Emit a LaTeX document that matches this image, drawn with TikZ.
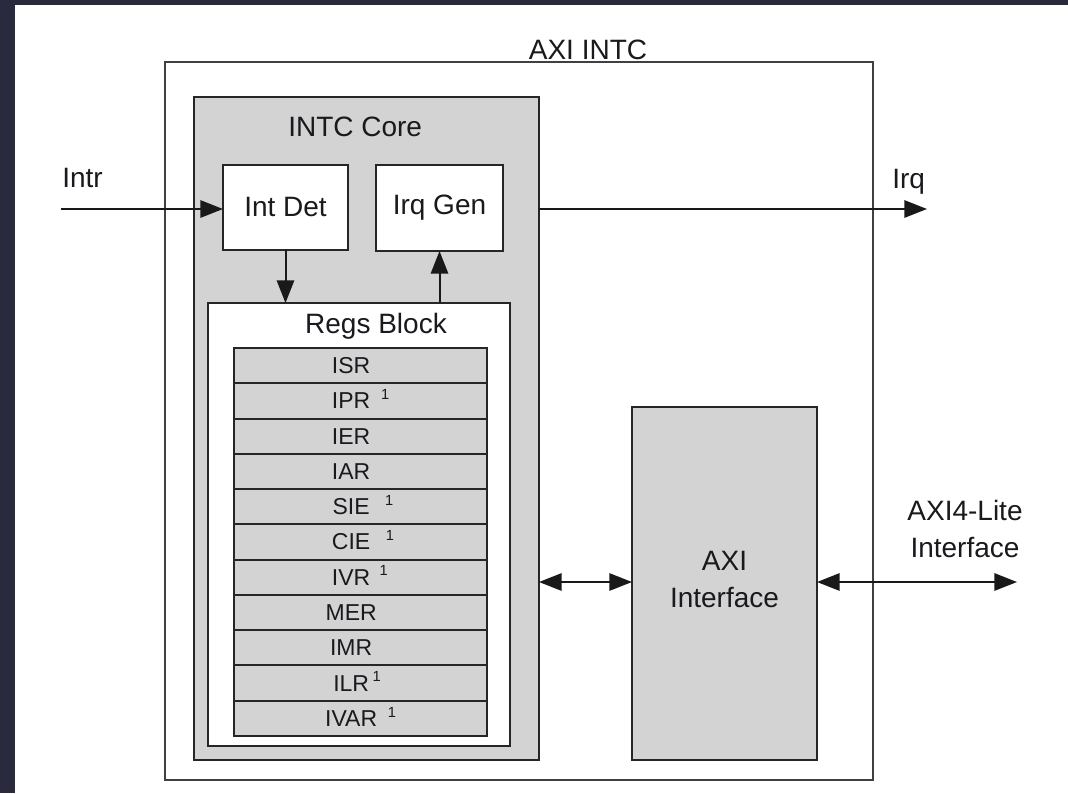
\documentclass[tikz,border=0pt]{standalone}
\usepackage{fontspec}
\setmainfont{Liberation Sans}
\usetikzlibrary{arrows.meta}
\definecolor{bgdark}{RGB}{41,42,62}
\definecolor{boxgray}{RGB}{211,211,211}
\definecolor{ink}{RGB}{25,25,30}
\newcommand\supone[1]{\rlap{\hspace{#1}\raisebox{7pt}{\fontsize{11}{12}\selectfont 1}}}
\begin{document}
\begin{tikzpicture}[x=0.75pt,y=-0.75pt,
  blk/.style={draw=black!85, line width=1.5pt, inner sep=0pt, outer sep=0pt},
  graybox/.style={blk, fill=boxgray},
  whitebox/.style={blk, fill=white},
  big/.style={font=\fontsize{21}{27.75}\selectfont, text=ink, inner sep=0pt},
  reg/.style={font=\fontsize{17.25}{20}\selectfont, text=ink, inner sep=0pt},
  tip/.tip={Triangle[length=17pt,width=13pt]},
  arr/.style={draw=black!90, line width=1.5pt, -tip},
  darr/.style={draw=black!90, line width=1.5pt, tip-tip},
]
% background
\useasboundingbox (0,0) rectangle (1068,793);
\fill[bgdark] (0,0) rectangle (1068,793);
\fill[white] (15,5) rectangle (1068,793);

% boxes
\node[whitebox, draw=black!75, minimum width=531pt, minimum height=538.5pt] (outer) at (519,421) {};
\node[graybox, minimum width=258.75pt, minimum height=497.25pt] (core) at (366.5,428.5) {};
\node[whitebox, minimum width=93.75pt, minimum height=63.75pt] (intdet) at (285.5,207.5) {};
\node[whitebox, minimum width=95.25pt, minimum height=64.5pt] (irqgen) at (439.5,208) {};
\node[whitebox, minimum width=226.5pt, minimum height=332.25pt] (regs) at (359,524.5) {};
\node[graybox, minimum width=138.75pt, minimum height=264.75pt] (axi) at (724.5,583.5) {};

% register rows
\foreach \i/\lab in {1/ISR, 2/{IPR\supone{8pt}}, 3/IER, 4/IAR, 5/{SIE\supone{11.6pt}},
  6/{CIE\supone{11.6pt}}, 7/{IVR\supone{7pt}}, 8/MER, 9/IMR, 10/{ILR\supone{2.6pt}},
  11/{IVAR\supone{8pt}}} {
  \node[graybox, minimum width=189.75pt, minimum height=26.45pt] (r\i) at (360.5,{348+35.27*(\i-0.5)}) {};
  \node[reg, anchor=base] (t\i) at ([xshift=-7pt,yshift=-6pt]r\i.center) {\lab};
}

% texts
\node[big, anchor=base] (ltitle) at (588,59) {AXI INTC};
\node[big, anchor=base west] (lcore) at (288,136) {INTC Core};
\node[big] (lintdet) at (intdet.center) {Int Det};
\node[big] (lirqgen) at (irqgen.center) {Irq Gen};
\node[big, anchor=base] (lregs) at (376,333) {Regs Block};
\node[big, align=center, yshift=3pt] (laxi) at (axi.center) {AXI\\Interface};
\node[big, anchor=base west] (lintr) at (62,187) {Intr};
\node[big, anchor=base west] (lirq) at (892,188) {Irq};
\node[big, align=center] (llite) at (965,529) {AXI4-Lite\\Interface};

% connectors
\coordinate (intrin) at (61,209);
\coordinate (irqout) at (927,209);
\coordinate (liteport) at (1017,582);
\draw[arr] (intrin) -- (intrin -| intdet.west);
\draw[arr] (intdet.south) -- (intdet.south |- regs.north);
\draw[arr] (irqgen.south |- regs.north) -- (irqgen.south);
\draw[arr] (irqout -| core.east) -- (irqout);
\draw[darr] (liteport -| core.east) -- (liteport -| axi.west);
\draw[darr] (liteport -| axi.east) -- (liteport);
\end{tikzpicture}
\end{document}
